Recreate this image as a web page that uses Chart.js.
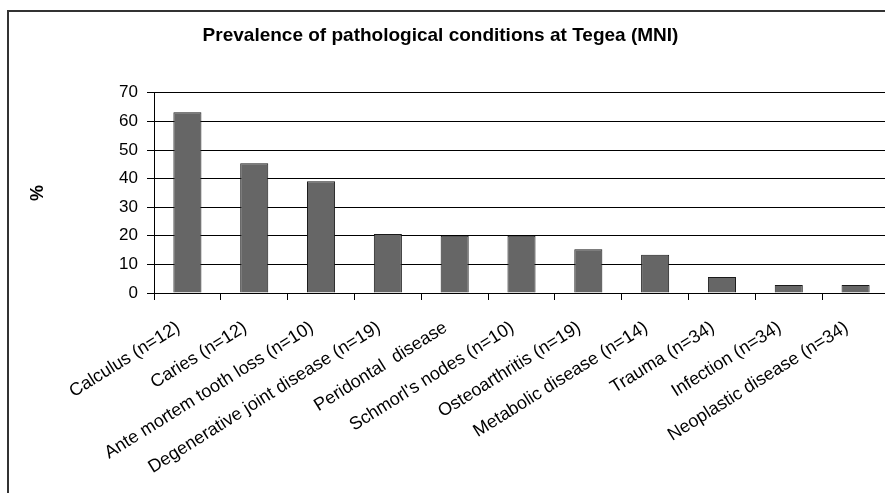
<!DOCTYPE html>
<html>
<head>
<meta charset="utf-8">
<script src="https://cdn.jsdelivr.net/npm/chart.js@4/dist/chart.umd.min.js"></script>
<style>
  html, body { margin: 0; padding: 0; background: #fff; overflow: hidden; width: 885px; height: 493px; }
  #frame { position: absolute; left: 7px; top: 10px; width: 900px; height: 600px; border-left: 2px solid #333; border-top: 2px solid #333; box-sizing: border-box; }
  #c { position: absolute; left: -8px; top: 0; }
</style>
</head>
<body>
<div id="frame"></div>
<canvas id="c" width="897" height="493"></canvas>
<script>
const titleText = 'Prevalence of pathological conditions at Tegea (MNI)';
const yAxisTitle = '%';
const categories = [
  'Calculus (n=12)',
  'Caries (n=12)',
  'Ante mortem tooth loss (n=10)',
  'Degenerative joint disease (n=19)',
  'Peridontal  disease',
  "Schmorl's nodes (n=10)",
  'Osteoarthritis (n=19)',
  'Metabolic disease (n=14)',
  'Trauma (n=34)',
  'Infection (n=34)',
  'Neoplastic disease (n=34)'
];
const prevalence = [63.2, 45.4, 39.1, 20.6, 20, 20, 15.3, 13.4, 5.6, 2.8, 2.8];
const yMin = 0;
const yMax = 70;
const yStep = 10;

const FONT = "'Liberation Sans', Arial, sans-serif";

new Chart(document.getElementById('c'), {
  type: 'bar',
  data: {
    labels: categories,
    datasets: [{
      data: prevalence,
      backgroundColor: '#666666',
      borderColor: '#1a1a1a',
      borderWidth: 1,
      categoryPercentage: 1,
      barPercentage: 0.42
    }]
  },
  options: {
    responsive: false,
    devicePixelRatio: 1,
    animation: false,
    layout: { padding: 0 },
    plugins: {
      legend: { display: false },
      tooltip: { enabled: false },
      title: {
        display: true,
        text: titleText,
        color: '#000',
        font: { family: FONT, size: 19, weight: 'bold', lineHeight: 1.2 },
        padding: { top: 24, bottom: 46 }
      }
    },
    scales: {
      x: {
        grid: {
          display: true,
          drawOnChartArea: false,
          drawTicks: true,
          tickLength: 7,
          color: '#000',
          offset: true
        },
        border: { display: true, color: '#000', width: 1 },
        ticks: {
          color: '#000',
          font: { family: FONT, size: 18 },
          minRotation: 32,
          maxRotation: 32,
          autoSkip: false,
          padding: 17,
          labelOffset: -9
        },
        afterFit(scale) { scale.height = 200; }
      },
      y: {
        min: yMin,
        max: yMax,
        grid: {
          color: '#000',
          tickLength: 7,
          drawTicks: true
        },
        border: { display: true, color: '#000', width: 1 },
        ticks: {
          stepSize: yStep,
          color: '#000',
          font: { family: FONT, size: 17 },
          padding: 9
        },
        title: {
          display: true,
          text: yAxisTitle,
          color: '#000',
          font: { family: FONT, size: 18, weight: 'bold' },
          padding: { top: 35, bottom: 0 }
        },
        afterFit(scale) { scale.width = 162; }
      }
    }
  }
});
</script>
</body>
</html>
